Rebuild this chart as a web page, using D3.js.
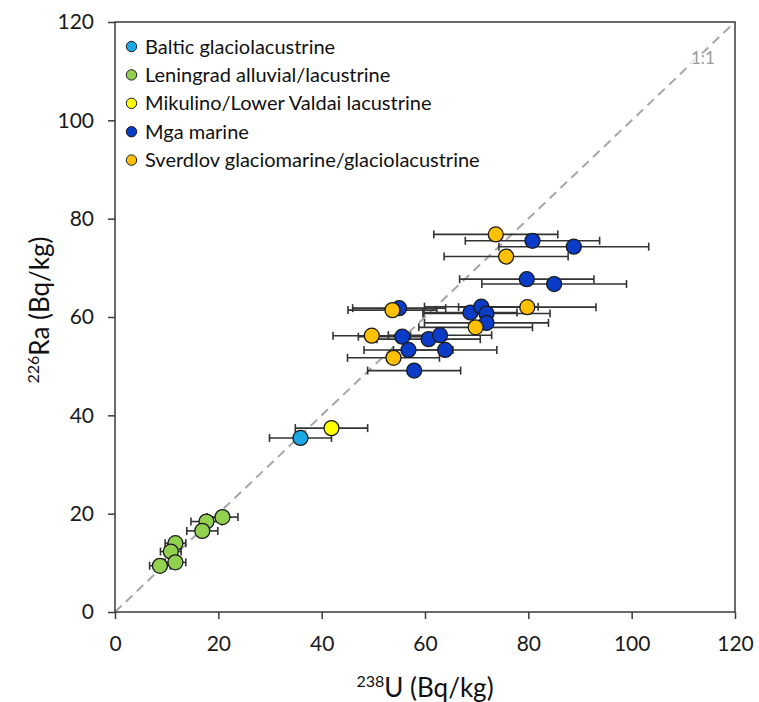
<!DOCTYPE html>
<html>
<head>
<meta charset="utf-8">
<script src="https://cdn.jsdelivr.net/npm/d3@7"></script>
<style>
  html, body { margin: 0; padding: 0; background: #fff; }
  text { font-family: Lato, "Open Sans", sans-serif; }
</style>
</head>
<body>
<svg id="chart" width="759" height="702"></svg>
<script>
// ---- data ----
const categories = [
  "Baltic glaciolacustrine",
  "Leningrad alluvial/lacustrine",
  "Mikulino/Lower Valdai lacustrine",
  "Mga marine",
  "Sverdlov glaciomarine/glaciolacustrine"
];
const xTicks = [0, 20, 40, 60, 80, 100, 120];
const yTicks = [0, 20, 40, 60, 80, 100, 120];

// 238U (x), 226Ra (y), 238U error (horizontal)
const balticU   = [35.9];
const balticRa  = [35.4];
const balticErr = [6];

const leningradU   = [20.8, 17.7, 16.9, 11.7, 10.8, 11.7, 8.7];
const leningradRa  = [19.3, 18.4, 16.5, 14.0, 12.3, 10.1, 9.4];
const leningradErr = [3, 3, 3, 2, 2, 2, 2];

const mikulinoU   = [41.9];
const mikulinoRa  = [37.4];
const mikulinoErr = [7];

const mgaU   = [80.8, 88.8, 79.7, 85.0, 55.0, 68.8, 70.9, 71.9, 71.9, 55.6, 60.7, 62.9, 56.8, 63.9, 57.9];
const mgaRa  = [75.5, 74.3, 67.7, 66.7, 61.8, 60.9, 62.1, 60.7, 58.8, 56.0, 55.5, 56.3, 53.3, 53.3, 49.1];
const mgaErr = [13, 14.5, 13, 14, 9, 9, 11, 12.3, 12, 8.5, 10, 10, 8.6, 10, 9];

const sverdlovU   = [73.7, 75.7, 79.8, 53.7, 49.7, 53.9, 69.8];
const sverdlovRa  = [76.8, 72.3, 62.0, 61.4, 56.2, 51.7, 57.9];
const sverdlovErr = [12, 12, 13.3, 8.6, 7.5, 8.9, 11];

const colors = ["#1BA9E6", "#92D050", "#FFFF00", "#0A3CC8", "#FFC000"];

const seriesU   = [balticU, leningradU, mikulinoU, mgaU, sverdlovU];
const seriesRa  = [balticRa, leningradRa, mikulinoRa, mgaRa, sverdlovRa];
const seriesErr = [balticErr, leningradErr, mikulinoErr, mgaErr, sverdlovErr];

const series = categories.map((name, i) => ({
  name, color: colors[i],
  points: seriesU[i].map((u, j) => ({ u, ra: seriesRa[i][j], err: seriesErr[i][j] }))
}));

// ---- drawing ----
const svg = d3.select("#chart");
const x = d3.scaleLinear().domain([0, 120]).range([115, 735]);
const y = d3.scaleLinear().domain([0, 120]).range([612, 22]);
const axisColor = "#3a3a3a";

// 1:1 line
svg.append("line")
  .attr("x1", x(0)).attr("y1", y(0)).attr("x2", x(120)).attr("y2", y(120))
  .attr("stroke", "#A6A6A6").attr("stroke-width", 2).attr("stroke-dasharray", "9,6");
svg.append("text").attr("x", 703).attr("y", 64)
  .attr("text-anchor", "middle").attr("font-size", 17).attr("fill", "#9a9a9a")
  .attr("stroke", "#fff").attr("stroke-width", 3).attr("paint-order", "stroke")
  .text("1:1");

// axes
const gx = svg.append("g").attr("transform", `translate(0,${y(0)})`)
  .call(d3.axisBottom(x).tickValues(xTicks).tickSize(7).tickSizeOuter(0).tickPadding(17));
const gy = svg.append("g").attr("transform", `translate(${x(0)},0)`)
  .call(d3.axisLeft(y).tickValues(yTicks).tickSize(7).tickSizeOuter(0).tickPadding(14));
[gx, gy].forEach(g => {
  g.select(".domain").remove();
  g.selectAll(".tick line").attr("stroke", axisColor).attr("stroke-width", 1.5);
  g.selectAll(".tick text").attr("font-size", 21).attr("fill", "#1a1a1a")
    .style("font-family", "Lato, sans-serif");
});

// frame
svg.append("rect")
  .attr("x", x(0)).attr("y", y(120))
  .attr("width", x(120) - x(0)).attr("height", y(0) - y(120))
  .attr("fill", "none").attr("stroke", axisColor).attr("stroke-width", 1.5);

// error bars
const eg = svg.append("g").attr("stroke", "#333").attr("stroke-width", 1.6);
series.forEach(s => s.points.forEach(p => {
  const cy = y(p.ra), x1 = x(p.u - p.err), x2 = x(p.u + p.err);
  eg.append("line").attr("x1", x1).attr("x2", x2).attr("y1", cy).attr("y2", cy);
  eg.append("line").attr("x1", x1).attr("x2", x1).attr("y1", cy - 4).attr("y2", cy + 4);
  eg.append("line").attr("x1", x2).attr("x2", x2).attr("y1", cy - 4).attr("y2", cy + 4);
}));

// markers
series.forEach(s => {
  svg.append("g").selectAll("circle").data(s.points).join("circle")
    .attr("cx", d => x(d.u)).attr("cy", d => y(d.ra)).attr("r", 7.5)
    .attr("fill", s.color).attr("stroke", "#1a1a1a").attr("stroke-width", 1.3);
});

// legend
const lg = svg.append("g");
series.forEach((s, i) => {
  const ly = 46.5 + i * 28.4;
  lg.append("circle").attr("cx", 131.5).attr("cy", ly).attr("r", 5.2)
    .attr("fill", s.color).attr("stroke", "#1a1a1a").attr("stroke-width", 1);
  lg.append("text").attr("x", 145).attr("y", ly).attr("dy", "0.35em")
    .attr("font-size", 20).attr("fill", "#111").text(s.name);
});

// axis titles
const xt = svg.append("text").attr("x", 425).attr("y", 697)
  .attr("text-anchor", "middle").attr("font-size", 26).attr("fill", "#111");
xt.append("tspan").attr("font-size", 16).attr("dy", -10).text("238");
xt.append("tspan").attr("dy", 10).text("U (Bq/kg)");

const yt = svg.append("text").attr("transform", "translate(49,310) rotate(-90)")
  .attr("text-anchor", "middle").attr("font-size", 26).attr("fill", "#111");
yt.append("tspan").attr("font-size", 16).attr("dy", -10).text("226");
yt.append("tspan").attr("dy", 10).text("Ra (Bq/kg)");
</script>
</body>
</html>
